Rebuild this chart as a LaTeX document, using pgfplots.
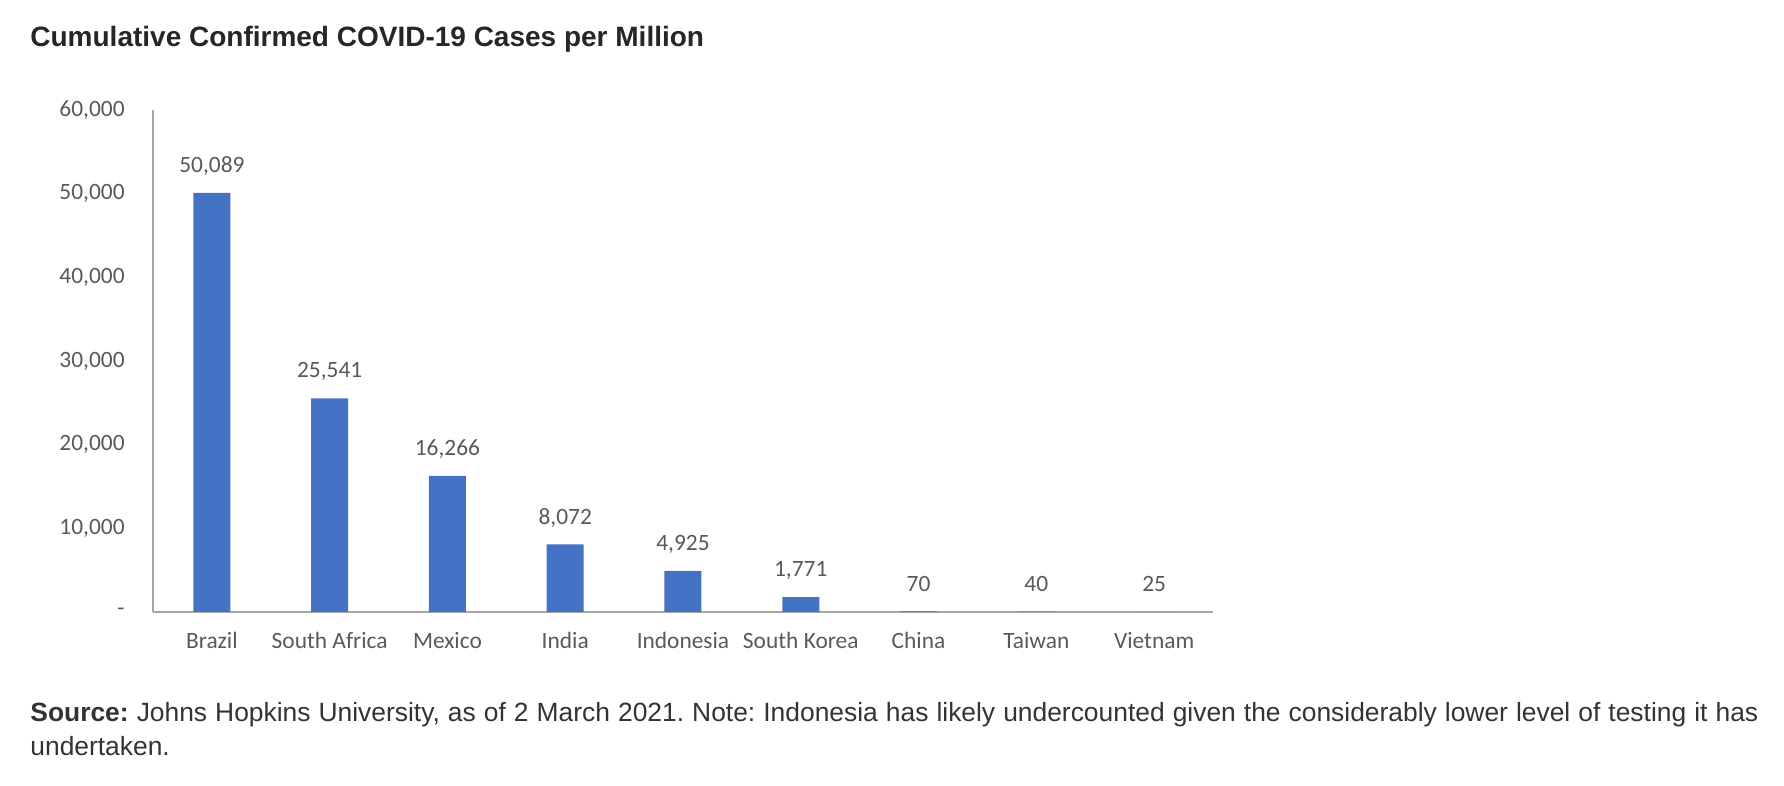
\documentclass[border=0pt]{standalone}
\usepackage{pgfplots}
\pgfplotsset{compat=1.18}
\usepackage{fontspec}
\setmainfont{Liberation Sans}
\newfontfamily\calibri{Carlito}
\definecolor{barblue}{HTML}{4472C4}
\definecolor{ticktext}{HTML}{595959}
\definecolor{axisgray}{HTML}{A6A6A6}
\definecolor{titletext}{HTML}{262626}
\definecolor{srctext}{HTML}{333333}
\begin{document}
\frenchspacing
\begin{tikzpicture}
\path[use as bounding box] (0,0) rectangle (892pt,393pt);
\node[anchor=base west, inner sep=0pt, text=titletext, font=\fontsize{14}{17}\selectfont\bfseries] at (15pt,369.5pt) {Cumulative Confirmed COVID-19 Cases per Million};
\node[anchor=base west, inner sep=0pt, text=srctext, font=\fontsize{13.2}{15}\selectfont] at (15pt,32pt) {\makebox[864pt][s]{\textbf{Source:} Johns Hopkins University, as of 2 March 2021. Note: Indonesia has likely undercounted given the considerably lower level of testing it has}};
\node[anchor=base west, inner sep=0pt, text=srctext, font=\fontsize{13.2}{15}\selectfont] at (15pt,15pt) {undertaken.};
\begin{axis}[
  at={(76.5pt,87pt)}, anchor=south west,
  scale only axis, width=530pt, height=251pt,
  xmin=-0.5, xmax=8.5, ymin=0, ymax=60000,
  scaled y ticks=false,
  axis x line*=bottom, axis y line*=left,
  axis line style={axisgray, line width=0.6pt, -},
  major tick length=0pt,
  xtick={0,1,2,3,4,5,6,7,8},
  xticklabels={Brazil,South Africa,Mexico,India,Indonesia,South Korea,China,Taiwan,Vietnam},
  ytick={0,10000,20000,30000,40000,50000,60000},
  yticklabels={{-\hspace{5pt}},{10,000},{20,000},{30,000},{40,000},{50,000},{60,000}},
  xticklabel style={font=\calibri\fontsize{11.7}{14}\selectfont, text=ticktext, anchor=base, inner sep=0pt, yshift=-18.5pt},
  yticklabel style={font=\calibri\fontsize{11.7}{14}\selectfont, text=ticktext, anchor=east, inner sep=0pt, xshift=-14pt},
  tick style={draw=none},
  ybar, bar width=18.5pt,
  nodes near coords,
  nodes near coords style={font=\calibri\fontsize{11.7}{14}\selectfont, text=ticktext, anchor=south, inner sep=0pt, text depth=0pt, yshift=10pt,
    /pgf/number format/.cd, fixed, precision=0, 1000 sep={,}, assume math mode=true},
  clip=false,
]
\addplot[fill=barblue, draw=none] coordinates {
  (0,50089) (1,25541) (2,16266) (3,8072) (4,4925) (5,1771) (6,70) (7,40) (8,25)
};
\end{axis}
\end{tikzpicture}
\end{document}
